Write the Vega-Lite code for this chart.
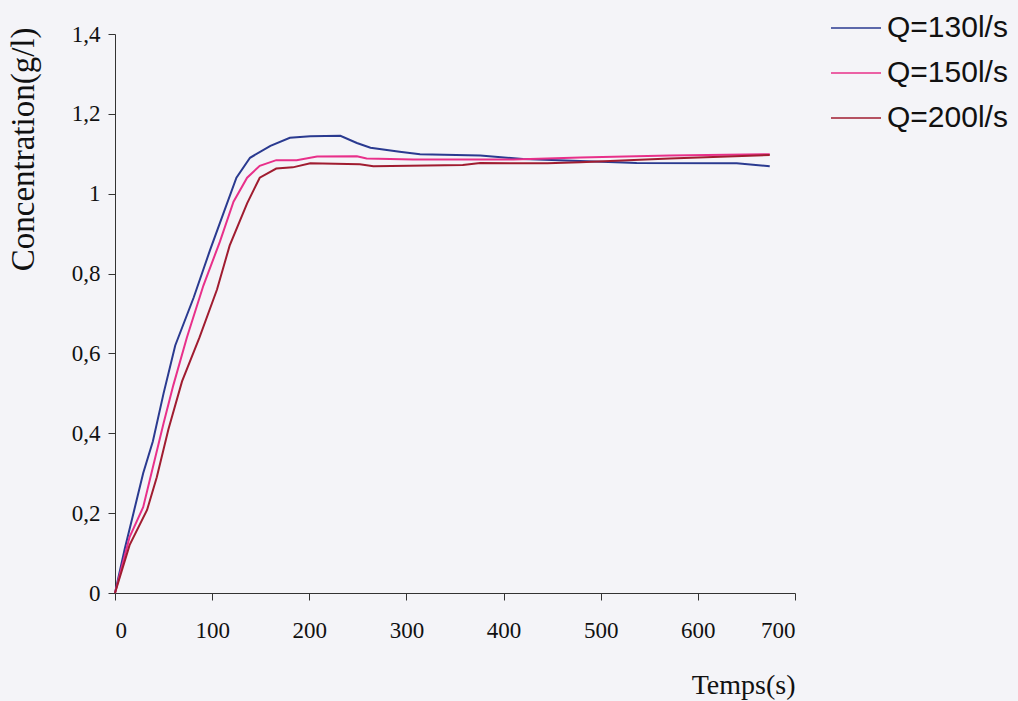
{
  "$schema": "https://vega.github.io/schema/vega-lite/v6.json",
  "width": 680,
  "height": 559,
  "autosize": {"type": "none"},
  "padding": {"left": 115, "top": 34, "right": 223, "bottom": 108},
  "background": "#f4f4f8",
  "config": {
    "view": {"stroke": null},
    "axis": {
      "grid": false,
      "domainColor": "#333333",
      "tickColor": "#333333",
      "tickSize": 7,
      "labelFont": "Liberation Serif",
      "labelFontSize": 23,
      "labelColor": "#111111",
      "titleFont": "Liberation Serif",
      "titleFontWeight": "normal",
      "titleColor": "#111111"
    },
    "legend": {
      "orient": "none",
      "legendX": 715,
      "legendY": -32,
      "padding": 0,
      "symbolType": "stroke",
      "symbolSize": 2500,
      "symbolStrokeWidth": 1.5,
      "labelFont": "Liberation Sans",
      "labelFontSize": 30,
      "labelColor": "#111111",
      "labelOffset": 5,
      "rowPadding": 4,
      "labelLimit": 300
    }
  },
  "data": {
    "values": [
      {"t": 0, "c": 0, "Q": "Q=130l/s"},
      {"t": 10, "c": 0.11, "Q": "Q=130l/s"},
      {"t": 19, "c": 0.20, "Q": "Q=130l/s"},
      {"t": 29, "c": 0.30, "Q": "Q=130l/s"},
      {"t": 39, "c": 0.38, "Q": "Q=130l/s"},
      {"t": 50, "c": 0.50, "Q": "Q=130l/s"},
      {"t": 62, "c": 0.62, "Q": "Q=130l/s"},
      {"t": 81, "c": 0.74, "Q": "Q=130l/s"},
      {"t": 98, "c": 0.86, "Q": "Q=130l/s"},
      {"t": 113, "c": 0.96, "Q": "Q=130l/s"},
      {"t": 125, "c": 1.04, "Q": "Q=130l/s"},
      {"t": 139, "c": 1.09, "Q": "Q=130l/s"},
      {"t": 160, "c": 1.12, "Q": "Q=130l/s"},
      {"t": 180, "c": 1.14, "Q": "Q=130l/s"},
      {"t": 201, "c": 1.144, "Q": "Q=130l/s"},
      {"t": 232, "c": 1.145, "Q": "Q=130l/s"},
      {"t": 249, "c": 1.127, "Q": "Q=130l/s"},
      {"t": 263, "c": 1.115, "Q": "Q=130l/s"},
      {"t": 293, "c": 1.105, "Q": "Q=130l/s"},
      {"t": 314, "c": 1.099, "Q": "Q=130l/s"},
      {"t": 376, "c": 1.096, "Q": "Q=130l/s"},
      {"t": 420, "c": 1.087, "Q": "Q=130l/s"},
      {"t": 479, "c": 1.082, "Q": "Q=130l/s"},
      {"t": 537, "c": 1.077, "Q": "Q=130l/s"},
      {"t": 640, "c": 1.076, "Q": "Q=130l/s"},
      {"t": 674, "c": 1.069, "Q": "Q=130l/s"},
      {"t": 0, "c": 0, "Q": "Q=150l/s"},
      {"t": 15, "c": 0.14, "Q": "Q=150l/s"},
      {"t": 29, "c": 0.215, "Q": "Q=150l/s"},
      {"t": 39, "c": 0.315, "Q": "Q=150l/s"},
      {"t": 50, "c": 0.425, "Q": "Q=150l/s"},
      {"t": 60, "c": 0.52, "Q": "Q=150l/s"},
      {"t": 74, "c": 0.64, "Q": "Q=150l/s"},
      {"t": 91, "c": 0.77, "Q": "Q=150l/s"},
      {"t": 108, "c": 0.88, "Q": "Q=150l/s"},
      {"t": 122, "c": 0.98, "Q": "Q=150l/s"},
      {"t": 136, "c": 1.04, "Q": "Q=150l/s"},
      {"t": 149, "c": 1.07, "Q": "Q=150l/s"},
      {"t": 166, "c": 1.084, "Q": "Q=150l/s"},
      {"t": 187, "c": 1.084, "Q": "Q=150l/s"},
      {"t": 208, "c": 1.093, "Q": "Q=150l/s"},
      {"t": 249, "c": 1.094, "Q": "Q=150l/s"},
      {"t": 259, "c": 1.088, "Q": "Q=150l/s"},
      {"t": 307, "c": 1.086, "Q": "Q=150l/s"},
      {"t": 410, "c": 1.086, "Q": "Q=150l/s"},
      {"t": 479, "c": 1.091, "Q": "Q=150l/s"},
      {"t": 571, "c": 1.096, "Q": "Q=150l/s"},
      {"t": 674, "c": 1.099, "Q": "Q=150l/s"},
      {"t": 0, "c": 0, "Q": "Q=200l/s"},
      {"t": 15, "c": 0.12, "Q": "Q=200l/s"},
      {"t": 33, "c": 0.208, "Q": "Q=200l/s"},
      {"t": 43, "c": 0.29, "Q": "Q=200l/s"},
      {"t": 55, "c": 0.41, "Q": "Q=200l/s"},
      {"t": 69, "c": 0.53, "Q": "Q=200l/s"},
      {"t": 87, "c": 0.64, "Q": "Q=200l/s"},
      {"t": 105, "c": 0.76, "Q": "Q=200l/s"},
      {"t": 118, "c": 0.87, "Q": "Q=200l/s"},
      {"t": 136, "c": 0.976, "Q": "Q=200l/s"},
      {"t": 149, "c": 1.04, "Q": "Q=200l/s"},
      {"t": 166, "c": 1.063, "Q": "Q=200l/s"},
      {"t": 183, "c": 1.066, "Q": "Q=200l/s"},
      {"t": 201, "c": 1.076, "Q": "Q=200l/s"},
      {"t": 252, "c": 1.074, "Q": "Q=200l/s"},
      {"t": 266, "c": 1.069, "Q": "Q=200l/s"},
      {"t": 358, "c": 1.072, "Q": "Q=200l/s"},
      {"t": 376, "c": 1.077, "Q": "Q=200l/s"},
      {"t": 445, "c": 1.076, "Q": "Q=200l/s"},
      {"t": 479, "c": 1.079, "Q": "Q=200l/s"},
      {"t": 571, "c": 1.088, "Q": "Q=200l/s"},
      {"t": 674, "c": 1.097, "Q": "Q=200l/s"}
    ]
  },
  "mark": {"type": "line", "strokeWidth": 2},
  "encoding": {
    "x": {
      "field": "t",
      "type": "quantitative",
      "scale": {"domain": [0, 700], "nice": false},
      "axis": {
        "values": [0, 100, 200, 300, 400, 500, 600, 700],
        "labelPadding": 19,
        "title": "Temps(s)",
        "titleFontSize": 28,
        "titleAnchor": "end",
        "titlePadding": 29
      }
    },
    "y": {
      "field": "c",
      "type": "quantitative",
      "scale": {"domain": [0, 1.4], "nice": false},
      "axis": {
        "values": [0, 0.2, 0.4, 0.6, 0.8, 1, 1.2, 1.4],
        "labelExpr": "replace(format(datum.value, '~g'), '.', ',')",
        "labelPadding": 8,
        "title": "Concentration(g/l)",
        "titleFontSize": 33,
        "titleAnchor": "end",
        "titleX": -75,
        "titleY": -7
      }
    },
    "color": {
      "field": "Q",
      "type": "nominal",
      "scale": {
        "domain": ["Q=130l/s", "Q=150l/s", "Q=200l/s"],
        "range": ["#2a3a90", "#e8308a", "#a01c30"]
      },
      "legend": {"title": null}
    }
  }
}
